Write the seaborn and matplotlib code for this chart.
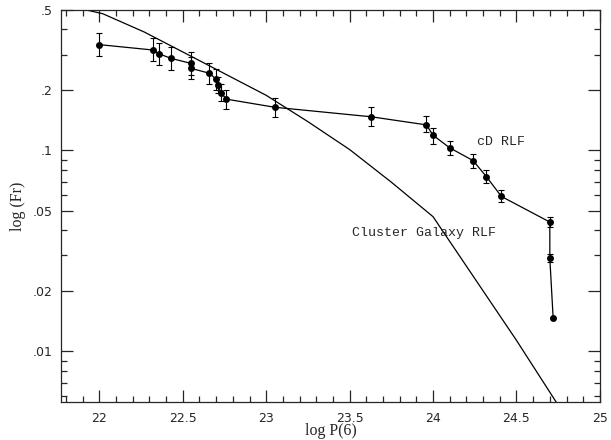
import numpy as np
import pandas as pd
import matplotlib
matplotlib.use("Agg")
import matplotlib.pyplot as plt
import matplotlib.ticker as mticker
import seaborn as sns

# cD radio luminosity function (points with error bars)
cd_x = [22.00, 22.32, 22.36, 22.43, 22.55, 22.55, 22.66, 22.70, 22.71, 22.73, 22.76,
        23.05, 23.63, 23.96, 24.00, 24.10, 24.24, 24.32, 24.41, 24.70, 24.70, 24.72]
cd_y = [0.336, 0.316, 0.302, 0.287, 0.271, 0.256, 0.242, 0.226, 0.211, 0.194, 0.180,
        0.164, 0.147, 0.134, 0.119, 0.103, 0.089, 0.074, 0.059, 0.044, 0.029, 0.0146]
cd_lo = [0.294, 0.278, 0.265, 0.252, 0.237, 0.226, 0.213, 0.200, 0.192, 0.177, 0.160,
         0.147, 0.133, 0.123, 0.108, 0.0944, 0.082, 0.0686, 0.0554, 0.0415, 0.0278, 0.0146]
cd_hi = [0.386, 0.362, 0.344, 0.328, 0.308, 0.290, 0.272, 0.254, 0.232, 0.213, 0.200,
         0.182, 0.164, 0.148, 0.130, 0.112, 0.0958, 0.0797, 0.0633, 0.0466, 0.0304, 0.0146]

# cluster galaxy RLF (plain curve)
cl_x = [21.75, 22.02, 22.27, 22.50, 23.00, 23.25, 23.50, 23.75, 24.00, 24.50, 24.75]
cl_y = [0.538, 0.479, 0.388, 0.309, 0.188, 0.139, 0.101, 0.0695, 0.0468, 0.01135, 0.0054]

y_major = [0.01, 0.02, 0.05, 0.1, 0.2, 0.5]
y_labels = [".01", ".02", ".05", ".1", ".2", ".5"]

sns.set_style("ticks")
plt.rcParams["font.family"] = ["DejaVu Sans"]

fig = plt.figure(figsize=(6.11, 4.40), dpi=100)
ax = fig.add_axes([0.0998, 0.0864, 0.882, 0.891])

cd = pd.DataFrame({"x": cd_x, "y": cd_y})
cl = pd.DataFrame({"x": cl_x, "y": cl_y})

sns.lineplot(data=cl, x="x", y="y", sort=False, estimator=None, color="black",
             linewidth=0.9, ax=ax)
sns.lineplot(data=cd, x="x", y="y", sort=False, estimator=None, color="black",
             linewidth=0.9, marker="o", markersize=5, markeredgewidth=0, ax=ax)

yerr = [np.array(cd_y) - np.array(cd_lo), np.array(cd_hi) - np.array(cd_y)]
ax.errorbar(cd_x, cd_y, yerr=yerr, fmt="none", ecolor="black", elinewidth=0.8,
            capsize=2.5, capthick=0.8)

ax.set_yscale("log")
ax.set_xlim(21.77, 25.0)
ax.set_ylim(0.0056, 0.5)

ax.yaxis.set_major_locator(mticker.FixedLocator(y_major))
ax.yaxis.set_major_formatter(mticker.FixedFormatter(y_labels))
ax.yaxis.set_minor_locator(mticker.FixedLocator(
    [k * 10.0 ** e for e in (-3, -2, -1) for k in range(2, 10)]))
ax.yaxis.set_minor_formatter(mticker.NullFormatter())

ax.xaxis.set_major_locator(mticker.MultipleLocator(0.5))
ax.xaxis.set_minor_locator(mticker.MultipleLocator(0.1))
ax.xaxis.set_major_formatter(mticker.FuncFormatter(lambda v, p: f"{v:g}"))

ax.tick_params(which="both", direction="in", top=True, right=True, width=0.9,
               labelsize=9)
ax.tick_params(which="major", length=8.5)
ax.tick_params(which="minor", length=4.3)
ax.tick_params(axis="x", pad=7)
ax.tick_params(axis="y", pad=6)
for s in ax.spines.values():
    s.set_linewidth(0.9)

ax.set_xlabel("log P(6)", family="Liberation Serif", fontsize=11.5, labelpad=-1)
ax.set_ylabel("log (Fr)", family="Liberation Serif", fontsize=11.5, labelpad=5)

ax.text(24.263, 0.1096, "cD RLF", family="Liberation Mono", fontsize=9.5,
        va="center", ha="left")
ax.text(23.515, 0.0389, "Cluster Galaxy RLF", family="Liberation Mono", fontsize=9.5,
        va="center", ha="left")

fig.savefig("out.png", dpi=100)
